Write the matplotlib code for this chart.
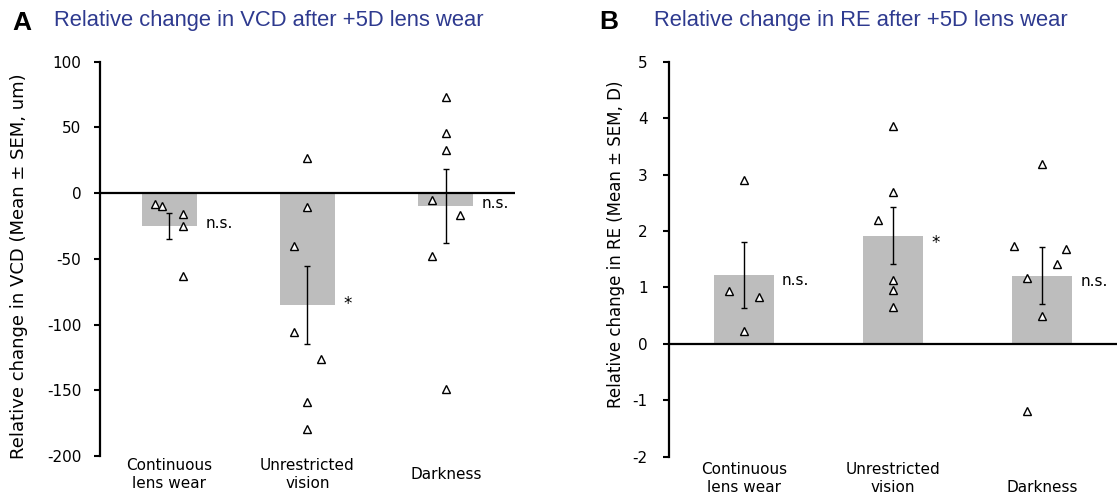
import matplotlib
matplotlib.use("Agg")
import matplotlib.pyplot as plt
import numpy as np

# ---------------- data ----------------
categories = ["Continuous\nlens wear", "Unrestricted\nvision", "Darkness"]

vcd_mean = [-25, -85, -10]
vcd_sem = [10, 29.5, 28]
vcd_points = [
    [-8.5, -9.7, -15.8, -24.7, -62.7],
    [26.6, -10.7, -39.9, -105.3, -126.3, -158.6, -179.4],
    [72.8, 45.7, 33.0, -5.6, -17.0, -48.2, -149.2],
]
vcd_jitter = [
    [-0.10, -0.05, 0.10, 0.10, 0.10],
    [0.0, 0.0, -0.10, -0.10, 0.10, 0.0, 0.0],
    [0.0, 0.0, 0.0, -0.10, 0.10, -0.10, 0.0],
]
vcd_sig = ["n.s.", "*", "n.s."]
vcd_yticks = [-200, -150, -100, -50, 0, 50, 100]

re_mean = [1.22, 1.92, 1.21]
re_sem = [0.58, 0.51, 0.51]
re_points = [
    [2.91, 0.93, 0.83, 0.22],
    [3.86, 2.70, 2.19, 1.14, 0.96, 0.66],
    [3.18, 1.73, 1.68, 1.41, 1.16, 0.49, -1.19],
]
re_jitter = [
    [0.0, -0.10, 0.10, 0.0],
    [0.0, 0.0, -0.10, 0.0, 0.0, 0.0],
    [0.0, -0.19, 0.16, 0.10, -0.10, 0.0, -0.10],
]
re_sig = ["n.s.", "*", "n.s."]
re_yticks = [-2, -1, 0, 1, 2, 3, 4, 5]

# ---------------- style ----------------
plt.rcParams['font.family'] = ['DejaVu Sans']
plt.rcParams['axes.unicode_minus'] = False
BAR_COLOR = "#bdbdbd"
TITLE_COLOR = "#2E3A8F"

fig = plt.figure(figsize=(11.2, 4.98), dpi=100)
axA = fig.add_axes([0.0893, 0.0843, 0.3705, 0.792])
axB = fig.add_axes([0.5976, 0.0829, 0.3995, 0.793])


def draw_panel(ax, means, sems, points, jitter, sig, yticks, ylabel,
               ylabel_fs, ylabel_pos, tick_pad, xlab_y, xlab_va, sig_dy,
               star_dy):
    x = np.arange(len(categories))
    width = 0.4
    ax.bar(x, means, width=width, color=BAR_COLOR, zorder=1)
    ax.axhline(0, color="black", lw=1.6, zorder=2)
    ax.errorbar(x, means, yerr=sems, fmt="none", ecolor="black",
                elinewidth=1.0, capsize=2.0, capthick=1.0, zorder=3)
    for i, (pts, jit) in enumerate(zip(points, jitter)):
        ax.plot(np.array(jit) + x[i], pts, linestyle="none", marker="^",
                ms=6, mfc="white", mec="black", mew=1.0, zorder=4)
    for i, s in enumerate(sig):
        dy = sig_dy if s != "*" else star_dy
        ax.annotate(s, xy=(x[i] + width / 2, means[i]), xytext=(6, dy),
                    textcoords="offset points", ha="left", va="center",
                    fontsize=11 if s != "*" else 12)
    ax.set_xlim(-0.5, 2.5)
    ax.set_ylim(yticks[0], yticks[-1])
    ax.set_yticks(yticks)
    ax.set_xticks([])
    for sp in ["top", "right", "bottom"]:
        ax.spines[sp].set_visible(False)
    ax.spines["left"].set_linewidth(1.6)
    ax.tick_params(axis="y", direction="out", length=4, width=1.5,
                   pad=tick_pad, labelsize=11)
    ax.set_ylabel(ylabel, fontsize=ylabel_fs)
    ax.yaxis.set_label_coords(*ylabel_pos)
    trans = ax.get_xaxis_transform()
    for i, c in enumerate(categories):
        ax.text(x[i], xlab_y, c, transform=trans, ha="center", va=xlab_va,
                multialignment="center", fontsize=11, linespacing=1.25)


draw_panel(axA, vcd_mean, vcd_sem, vcd_points, vcd_jitter, vcd_sig,
           vcd_yticks, "Relative change in VCD (Mean \u00b1 SEM, um)",
           13, (-0.174, 0.482), 9.5, -0.048, "center", 2, 0.5)
draw_panel(axB, re_mean, re_sem, re_points, re_jitter, re_sig,
           re_yticks, "Relative change in RE (Mean \u00b1 SEM, D)",
           12, (-0.099, 0.538), 11.5, -0.096, "bottom", -4, -5.5)

fig.text(0.011, 0.954, "A", fontsize=19, fontweight="bold",
         family="Liberation Sans", va="center", ha="left")
fig.text(0.048, 0.958, "Relative change in VCD after +5D lens wear",
         fontsize=15.8, family="Liberation Sans", color=TITLE_COLOR,
         va="center", ha="left")
fig.text(0.535, 0.956, "B", fontsize=19, fontweight="bold",
         family="Liberation Sans", va="center", ha="left")
fig.text(0.584, 0.958, "Relative change in RE after +5D lens wear",
         fontsize=15.8, family="Liberation Sans", color=TITLE_COLOR,
         va="center", ha="left")

fig.savefig("out.png", dpi=100)
